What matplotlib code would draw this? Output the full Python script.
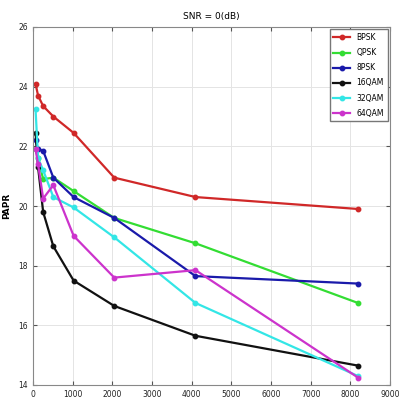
import numpy as np
import matplotlib
matplotlib.use("Agg")
import matplotlib.pyplot as plt

# FFT sizes (x axis)
n_fft = [64, 128, 256, 512, 1024, 2048, 4096, 8192]

# PAPR values
bpsk = [24.1, 23.7, 23.35, 23.0, 22.45, 20.95, 20.3, 19.9]
qpsk = [21.9, 21.6, 20.9, 20.95, 20.5, 19.6, 18.75, 16.75]
psk8 = [22.2, 21.9, 21.85, 20.95, 20.3, 19.6, 17.65, 17.4]
qam16 = [22.45, 21.3, 19.8, 18.65, 17.5, 16.65, 15.65, 14.65]
qam32 = [23.25, 21.6, 21.2, 20.3, 19.95, 18.95, 16.75, 14.3]
qam64 = [21.9, 21.4, 20.25, 20.7, 19.0, 17.6, 17.85, 14.25]

labels = ["BPSK", "QPSK", "8PSK", "16QAM", "32QAM", "64QAM"]
colors = ["#d02828", "#33dd33", "#1a1aaa", "#111111", "#33e6e6", "#cc33cc"]
series = [bpsk, qpsk, psk8, qam16, qam32, qam64]

fig = plt.figure(figsize=(4.01, 4.0), dpi=100)
ax = fig.add_axes([33 / 401, 15 / 400, 357 / 401, 358 / 400])

for y, c, lab in zip(series, colors, labels):
    ax.plot(n_fft, y, "-o", color=c, lw=1.6, ms=3.2, label=lab)

ax.set_xlim(0, 9000)
ax.set_ylim(14, 26)
ax.set_xticks(np.arange(0, 9001, 1000))
ax.set_yticks(np.arange(14, 27, 2))
ax.grid(True, color="#e4e4e4", lw=0.7)
ax.tick_params(direction="in", labelsize=5.5, length=3, top=True, right=True,
               colors="#555555", labelcolor="#222222")
for s in ax.spines.values():
    s.set_color("#888888")
    s.set_linewidth(0.8)

ax.set_title("SNR = 0(dB)", fontsize=6.5, pad=6)
ax.set_ylabel("PAPR", fontsize=6.5, fontweight="bold", labelpad=5)

leg = ax.legend(loc="upper right", fontsize=5.5, handlelength=2.2,
                borderpad=0.5, labelspacing=0.8, fancybox=False,
                framealpha=1, edgecolor="#777777", borderaxespad=0.3)

fig.savefig("out.png", dpi=100)
